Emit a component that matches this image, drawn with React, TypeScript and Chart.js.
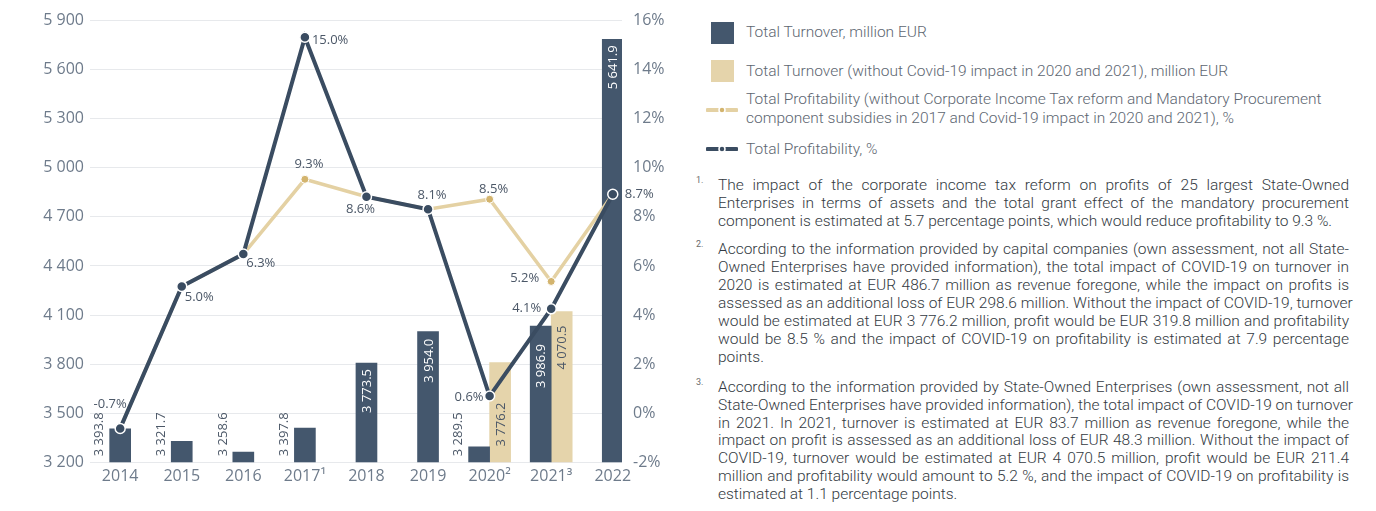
import React, { useEffect, useRef } from 'react';
import { Chart, registerables } from 'chart.js';

Chart.register(...registerables);

// ---------- data ----------
const years = ['2014', '2015', '2016', '2017', '2018', '2019', '2020', '2021', '2022'];
const yearNoteMarks = ['', '', '', '¹', '', '', '²', '³', ''];
const turnover = [3393.8, 3321.7, 3258.6, 3397.8, 3773.5, 3954.0, 3289.5, 3986.9, 5641.9];
const turnoverNoCovid = [null, null, null, null, null, null, 3776.2, 4070.5, null];
const profitability = [-0.7, 5.0, 6.3, 15.0, 8.6, 8.1, 0.6, 4.1, 8.7];
const profitabilityAdj = [-0.7, 5.0, 6.3, 9.3, 8.6, 8.1, 8.5, 5.2, 8.7];
const profitabilityAdjLabelled = [false, false, false, true, false, false, true, true, false];
const leftTickLabels = ['3 200', '3 500', '3 800', '4 100', '4 400', '4 700', '5 000', '5 300', '5 600', '5 900'];
const rightTickLabels = ['-2%', '0%', '2%', '4%', '6%', '8%', '10%', '12%', '14%', '16%'];

// ---------- style config ----------
const LEFT_MIN = 3200, LEFT_MAX = 5750;
const RIGHT_MIN = -2.06, RIGHT_MAX = 15.67;
const DARK = '#44576d';
const BEIGE = '#e5d4ab';
const DARK_LINE = '#3a4c61';
const BEIGE_LINE = '#e4d1a3';
const GOLD = '#d3b46e';
const AXIS_TEXT = '#6e7b8b';
const LABEL_TEXT = '#4b5767';
// label placement: [dx, dy, align]
const profitLabelPlace: [number, number, CanvasTextAlign][] = [
  [-10, -24, 'center'], [3, 11, 'left'], [3, 9, 'left'], [7, 3, 'left'], [-6, 13, 'center'],
  [4, -14, 'center'], [-6, 1, 'right'], [-10, -1, 'right'], [12, 0, 'left'],
];
const adjLabelPlace: [number, number, CanvasTextAlign][] = [
  [0, -14, 'center'], [0, -14, 'center'], [0, -14, 'center'], [4, -15, 'center'], [0, -14, 'center'],
  [0, -14, 'center'], [4, -10, 'center'], [-12, -3, 'right'], [0, -14, 'center'],
];
const turnoverInset = [6, 6, 6, 6, 6, 7, 6, 18, 6];
const noCovidInset = [6, 6, 6, 6, 6, 6, 40, 14, 6];

const fmtNum = (v: number) => {
  const [i, d] = v.toFixed(1).split('.');
  return i.replace(/\B(?=(\d{3})+(?!\d))/g, ' ') + '.' + d;
};

const labelsPlugin = {
  id: 'customLabels',
  afterDatasetsDraw(chart: any) {
    const ctx = chart.ctx as CanvasRenderingContext2D;
    const bottom = chart.chartArea.bottom;
    // bar labels
    [0, 1].forEach((di) => {
      const meta = chart.getDatasetMeta(di);
      const values = di === 0 ? turnover : turnoverNoCovid;
      const insets = di === 0 ? turnoverInset : noCovidInset;
      meta.data.forEach((bar: any, i: number) => {
        const v = values[i];
        if (v == null) return;
        const p = bar.getProps(['x', 'y', 'width'], true);
        const h = bottom - p.y;
        ctx.save();
        ctx.font = '13px "Open Sans", sans-serif';
        ctx.textBaseline = 'middle';
        if (h > 60) {
          ctx.translate(p.x + 1, p.y + insets[i]);
          ctx.rotate(-Math.PI / 2);
          ctx.textAlign = 'right';
          ctx.fillStyle = di === 0 ? '#ffffff' : LABEL_TEXT;
        } else {
          ctx.translate(p.x - p.width / 2 - 10, bottom - 6);
          ctx.rotate(-Math.PI / 2);
          ctx.textAlign = 'left';
          ctx.fillStyle = LABEL_TEXT;
        }
        ctx.fillText(fmtNum(v), 0, 0);
        ctx.restore();
      });
    });
    // line labels
    const drawLineLabels = (di: number, values: number[], place: any[], show: boolean[] | null) => {
      const meta = chart.getDatasetMeta(di);
      meta.data.forEach((pt: any, i: number) => {
        if (show && !show[i]) return;
        const [dx, dy, align] = place[i];
        ctx.save();
        ctx.font = '13px "Open Sans", sans-serif';
        ctx.textBaseline = 'middle';
        ctx.textAlign = align;
        ctx.fillStyle = LABEL_TEXT;
        ctx.fillText(values[i].toFixed(1) + '%', pt.x + dx, pt.y + dy);
        ctx.restore();
      });
    };
    drawLineLabels(3, profitabilityAdj, adjLabelPlace, profitabilityAdjLabelled);
    drawLineLabels(2, profitability, profitLabelPlace, null);
  },
};

const ChartBox: React.FC = () => {
  const ref = useRef<HTMLCanvasElement | null>(null);
  useEffect(() => {
    if (!ref.current) return;
    Chart.defaults.font.family = '"Open Sans", sans-serif';
    const toXY = (arr: (number | null)[]) => arr.map((y, i) => ({ x: i, y }));
    const chart = new Chart(ref.current, {
      type: 'bar',
      data: {
        datasets: [
          {
            type: 'bar', label: 'Total Turnover, million EUR', data: toXY(turnover) as any,
            backgroundColor: DARK, yAxisID: 'y', barThickness: 21, skipNull: true, order: 3,
          } as any,
          {
            type: 'bar', label: 'Total Turnover (without Covid-19 impact)', data: toXY(turnoverNoCovid) as any,
            backgroundColor: BEIGE, yAxisID: 'y', barThickness: 21, skipNull: true, order: 3,
          } as any,
          {
            type: 'line', label: 'Total Profitability, %', data: toXY(profitability) as any,
            borderColor: DARK_LINE, borderWidth: 4, pointRadius: 5, pointBackgroundColor: DARK_LINE,
            pointBorderColor: '#ffffff', pointBorderWidth: 1.5, yAxisID: 'y1', tension: 0, order: 1,
          } as any,
          {
            type: 'line', label: 'Total Profitability (adjusted), %', data: toXY(profitabilityAdj) as any,
            borderColor: BEIGE_LINE, borderWidth: 3.5, pointRadius: 4, pointBackgroundColor: GOLD,
            pointBorderColor: '#ffffff', pointBorderWidth: 1, yAxisID: 'y1', tension: 0, order: 2,
          } as any,
        ],
      },
      options: {
        animation: false,
        responsive: false,
        events: [],
        layout: { padding: { top: 18.3, left: 0, right: 0, bottom: 0 } },
        plugins: { legend: { display: false }, tooltip: { enabled: false } },
        scales: {
          x: {
            type: 'linear', min: -0.49, max: 8.15, offset: false,
            afterBuildTicks: (s: any) => { s.ticks = years.map((_, i) => ({ value: i })); },
            afterFit: (s: any) => { s.height = 511 - 462.3; },
            grid: { display: false, drawTicks: false, offset: false },
            border: { display: false },
            ticks: {
              autoSkip: false, maxRotation: 0, padding: 5, color: AXIS_TEXT,
              font: { size: 16 },
              callback: (v: any) => years[v] + yearNoteMarks[v],
            },
          },
          y: {
            position: 'left', min: LEFT_MIN, max: LEFT_MAX,
            afterBuildTicks: (s: any) => {
              s.ticks = leftTickLabels.map((_, i) => ({ value: LEFT_MIN + (i * (LEFT_MAX - LEFT_MIN)) / 9 }));
            },
            afterFit: (s: any) => { s.width = 90; },
            grid: { color: '#e7e9ec', lineWidth: 1, drawTicks: false },
            border: { display: false },
            ticks: {
              padding: 6, color: AXIS_TEXT, font: { size: 16 },
              callback: (_v: any, i: number) => leftTickLabels[i],
            },
          },
          y1: {
            position: 'right', min: RIGHT_MIN, max: RIGHT_MAX,
            afterBuildTicks: (s: any) => {
              s.ticks = rightTickLabels.map((_, i) => ({ value: RIGHT_MIN + (i * (RIGHT_MAX - RIGHT_MIN)) / 9 }));
            },
            afterFit: (s: any) => { s.width = 58; },
            grid: { display: false, drawTicks: false },
            border: { display: false },
            ticks: {
              padding: 11, color: AXIS_TEXT, font: { size: 16 },
              callback: (_v: any, i: number) => rightTickLabels[i],
            },
          },
        },
      } as any,
      plugins: [labelsPlugin],
    });
    return () => chart.destroy();
  }, []);
  return <canvas ref={ref} width={680} height={511} style={{ position: 'absolute', left: 0, top: 0 }} />;
};

const legendText: React.CSSProperties = {
  position: 'absolute', left: 746, fontFamily: 'Roboto, sans-serif', fontSize: 15.5,
  color: '#5d6671', lineHeight: '19px', whiteSpace: 'nowrap', fontWeight: 300,
};

const LineIcon: React.FC<{ line: string; dot: string; top: number }> = ({ line, dot, top }) => (
  <svg width={32} height={10} style={{ position: 'absolute', left: 706, top: top - 5 }}>
    <line x1={1.5} y1={5} x2={30.5} y2={5} stroke={line} strokeWidth={4} strokeLinecap="round" />
    <circle cx={16} cy={5} r={3} fill={dot} stroke="#fff" strokeWidth={1.5} />
  </svg>
);

const footnotes: string[][] = [
  [
    'The impact of the corporate income tax reform on profits of 25 largest State-Owned',
    'Enterprises in terms of assets and the total grant effect of the mandatory procurement',
    'component is estimated at 5.7 percentage points, which would reduce profitability to 9.3 %.',
  ],
  [
    'According to the information provided by capital companies (own assessment, not all State-',
    'Owned Enterprises have provided information), the total impact of COVID-19 on turnover in',
    '2020 is estimated at EUR 486.7 million as revenue foregone, while the impact on profits is',
    'assessed as an additional loss of EUR 298.6 million. Without the impact of COVID-19, turnover',
    'would be estimated at EUR 3 776.2 million, profit would be EUR 319.8 million and profitability',
    'would be 8.5 % and the impact of COVID-19 on profitability is estimated at 7.9 percentage',
    'points.',
  ],
  [
    'According to the information provided by State-Owned Enterprises (own assessment, not all',
    'State-Owned Enterprises have provided information), the total impact of COVID-19 on turnover',
    'in 2021. In 2021, turnover is estimated at EUR 83.7 million as revenue foregone, while the',
    'impact on profit is assessed as an additional loss of EUR 48.3 million. Without the impact of',
    'COVID-19, turnover would be estimated at EUR 4 070.5 million, profit would be EUR 211.4',
    'million and profitability would amount to 5.2 %, and the impact of COVID-19 on profitability is',
    'estimated at 1.1 percentage points.',
  ],
];
const footnoteTops = [185, 249.3, 386.7];
const LINE_H = 17.9;

const App: React.FC = () => {
  return (
    <div style={{ position: 'absolute', left: 0, top: 0, width: 1376, height: 511, overflow: 'hidden', background: '#fff' }}>
      <ChartBox />
      <div style={{ position: 'absolute', left: 711, top: 22, width: 23, height: 22, background: DARK }} />
      <div style={{ ...legendText, top: 32.7 - 9.5 }}>Total Turnover, million EUR</div>
      <div style={{ position: 'absolute', left: 711, top: 60, width: 23, height: 22, background: BEIGE }} />
      <div style={{ ...legendText, top: 71 - 9.5 }}>Total Turnover (without Covid-19 impact in 2020 and 2021), million EUR</div>
      <LineIcon line={BEIGE_LINE} dot={GOLD} top={110} />
      <div style={{ ...legendText, top: 99.3 - 9.5 }}>
        Total Profitability (without Corporate Income Tax reform and Mandatory Procurement
        <br />
        component subsidies in 2017 and Covid-19 impact in 2020 and 2021), %
      </div>
      <LineIcon line={DARK_LINE} dot={DARK_LINE} top={149.3} />
      <div style={{ ...legendText, top: 149.3 - 9.5 }}>Total Profitability, %</div>
      {footnotes.map((lines, fi) => (
        <React.Fragment key={fi}>
          <div style={{
            position: 'absolute', left: 696, top: footnoteTops[fi] - 10, fontFamily: 'Roboto, sans-serif',
            fontSize: 9, color: '#6b6b6b',
          }}>{fi + 1}.</div>
          {lines.map((ln, li) => {
            const last = li === lines.length - 1;
            return (
              <div key={li} style={{
                position: 'absolute', left: 718, width: 631, top: footnoteTops[fi] + li * LINE_H - 9,
                height: 18, lineHeight: '18px', fontFamily: 'Roboto, sans-serif', fontSize: 15.5,
                fontWeight: 300, color: '#333a42', whiteSpace: 'nowrap',
                textAlign: last ? 'left' : 'justify', textAlignLast: last ? 'left' : 'justify',
              } as React.CSSProperties}>{ln}</div>
            );
          })}
        </React.Fragment>
      ))}
    </div>
  );
};

export default App;
